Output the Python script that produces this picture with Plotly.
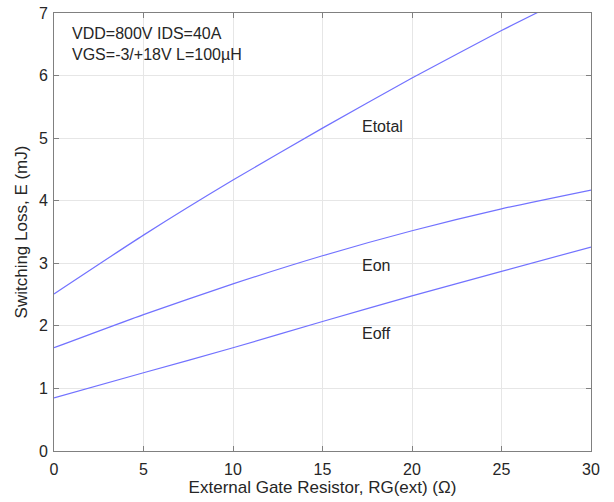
import plotly.graph_objects as go

rg = [0, 5, 10, 15, 20, 25, 30]
etotal = [2.51, 3.45, 4.33, 5.16, 5.96, 6.72, 7.43]
eon = [1.65, 2.18, 2.67, 3.12, 3.52, 3.87, 4.17]
eoff = [0.85, 1.25, 1.65, 2.07, 2.48, 2.87, 3.26]

series = [("Etotal", etotal, 5.18), ("Eon", eon, 2.97), ("Eoff", eoff, 1.88)]
label_x = 17.2
x_ticks = [0, 5, 10, 15, 20, 25, 30]
y_ticks = [0, 1, 2, 3, 4, 5, 6, 7]
cond_lines = ["VDD=800V IDS=40A", "VGS=-3/+18V L=100\u00b5H"]

FONT = "Liberation Sans, Arial, sans-serif"
LINE_COLOR = "#7272ff"
TXT = "#262626"

fig = go.Figure()
for name, vals, ly in series:
    fig.add_trace(go.Scatter(x=rg, y=vals, mode="lines", name=name,
                             line=dict(color=LINE_COLOR, width=1.2, shape="spline", smoothing=0.6),
                             showlegend=False, hoverinfo="skip"))
    fig.add_annotation(x=label_x, y=ly, text=name, showarrow=False, xanchor="left",
                       yanchor="middle", xshift=-2, font=dict(family=FONT, size=16, color=TXT))

fig.add_annotation(x=1.0, y=6.5, text="<br>".join(cond_lines), showarrow=False, xanchor="left",
                   yanchor="middle", align="left", xshift=-2,
                   font=dict(family=FONT, size=16, color=TXT))

axis_common = dict(showline=True, linecolor="#808080", linewidth=1, mirror="ticks",
                   ticks="inside", ticklen=5, tickcolor="#808080", automargin=False,
                   ticklabeloverflow="allow",
                   showgrid=True, gridcolor="#e6e6e6", gridwidth=1, zeroline=False,
                   tickfont=dict(family=FONT, size=16, color=TXT))

fig.update_xaxes(range=[0, 30], tickvals=x_ticks, ticklabelstandoff=4,
                 title=dict(text="External Gate Resistor, RG(ext) (\u03a9)", standoff=3,
                            font=dict(family=FONT, size=17, color=TXT)),
                 **axis_common)
fig.update_yaxes(range=[0, 7], tickvals=y_ticks, ticklabelstandoff=2,
                 title=dict(text="Switching Loss, E (mJ)", standoff=6,
                            font=dict(family=FONT, size=17, color=TXT)),
                 **axis_common)

fig.update_layout(width=614, height=502, margin=dict(l=54, r=23, t=13, b=51),
                  plot_bgcolor="white", paper_bgcolor="white")

fig.write_html("out.html", config={"displayModeBar": False},
               post_script="document.body.style.margin='0';document.body.style.overflow='hidden';")
